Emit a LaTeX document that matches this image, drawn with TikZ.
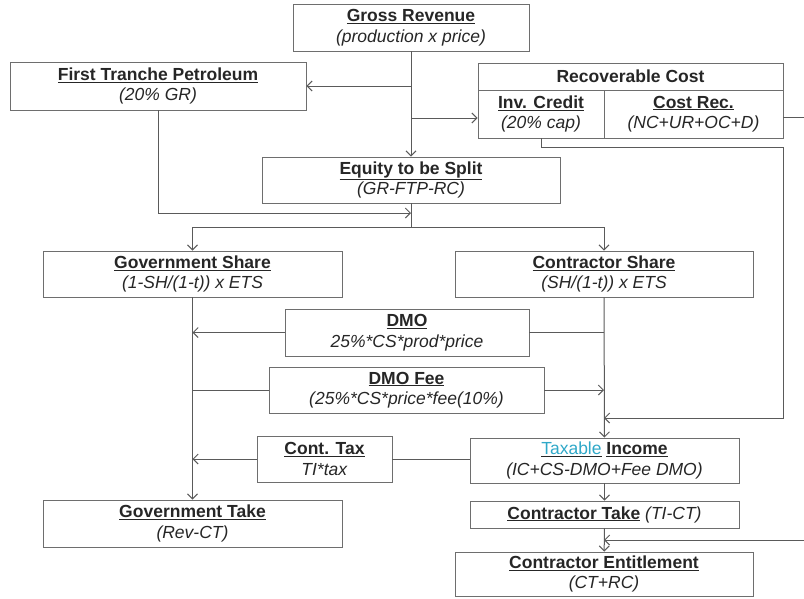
\documentclass[tikz,border=0pt]{standalone}
\usepackage{fontspec}
\setmainfont{Liberation Sans}
\usepackage{tikz}
\usetikzlibrary{arrows.meta}
\definecolor{linegray}{HTML}{5A5A5A}
\definecolor{boxgray}{HTML}{6E6E6E}
\definecolor{linkcyan}{HTML}{2FA8C8}
\newcommand{\hd}[1]{\underline{\textbf{#1}}}

\begin{document}
\begin{tikzpicture}[x=1pt, y=-1pt, >={Straight Barb[length=5pt,width=10pt]},
		box/.style={draw=boxgray, line width=0.9pt, inner sep=0pt, align=center, text=black!85, font=\fontsize{17.5}{20.5}\selectfont},
		link/.style={draw=linegray, line width=1pt}]
				\useasboundingbox (0,0) rectangle (804,598);
				% top row
				\node[box, minimum width=236, minimum height=47] (gr) at (411,27.5) {\hd{Gross Revenue}\\\textit{(production x price)}};
				\node[box, minimum width=296, minimum height=48] (ftp) at (158,86) {\hd{First Tranche Petroleum}\\\textit{(20\% GR)}};
				\node[box, minimum width=305, minimum height=27] (rch) at (630.5,76.5) {\textbf{Recoverable Cost}};
				\node[box, minimum width=126, minimum height=48] (ic) at (541,114) {\hd{Inv. Credit}\\\textit{(20\% cap)}};
				\node[box, minimum width=179, minimum height=48] (crec) at (693.5,114) {\hd{Cost Rec.}\\\textit{(NC+UR+OC+D)}};
				\node[box, minimum width=298, minimum height=46] (ets) at (411,180) {\hd{Equity to be Split}\\\textit{(GR-FTP-RC)}};
				% shares
				\node[box, minimum width=299, minimum height=46] (gs) at (192.5,274) {\hd{Government Share}\\\textit{(1-SH/(1-t)) x ETS}};
				\node[box, minimum width=298, minimum height=46] (cs) at (604,274) {\hd{Contractor Share}\\\textit{(SH/(1-t)) x ETS}};
				\node[box, minimum width=244, minimum height=47] (dmo) at (407,332.5) {\hd{DMO}\\\textit{25\%*CS*prod*price}};
				\node[box, minimum width=275, minimum height=46] (fee) at (406.5,390) {\hd{DMO Fee}\\\textit{(25\%*CS*price*fee(10\%)}};
				\node[box, minimum width=135, minimum height=46] (tax) at (324.5,459) {\hd{Cont. Tax}\\\textit{TI*tax}};
				% takes
				\node[box, minimum width=299, minimum height=47] (gt) at (192.5,523.5) {\hd{Government Take}\\\textit{(Rev-CT)}};
				\node[box, minimum width=269, minimum height=45] (ti) at (604.5,460.5) {\underline{\textcolor{linkcyan}{Taxable}} \hd{Income}\\\textit{(IC+CS-DMO+Fee DMO)}};
				\node[box, minimum width=269, minimum height=27] (ct) at (604.5,514.5) {\hd{Contractor Take} \textit{(TI-CT)}};
				\node[box, minimum width=298, minimum height=44] (ce) at (604,574) {\hd{Contractor Entitlement}\\\textit{(CT+RC)}};
				\coordinate (join) at (411,213);
				\coordinate (fork) at (411,227);
				\coordinate (icdrop) at (783,418);
				\coordinate (rcout) at (804,117);
				\coordinate (rcin) at (804,540);
				% connectors
				\draw[link, ->] (gr) -- (ets);
				\draw[link, ->] (gr.south |- ftp.east) -- (ftp.east);
				\draw[link, ->] (gr.south |- 0,118) -- (ic.west |- 0,118);
				\draw[link] (crec.east |- rcout) -- (rcout);
				\draw[link, ->] (ic.south) -- ++(0,9) -| (icdrop) -- (icdrop -| cs.south);
				\draw[link, ->] (ftp.south) |- (join);
				\draw[link] (ets.south) -- (fork);
				\draw[link, ->] (fork) -| (gs.north);
				\draw[link, ->] (fork) -| (cs.north);
				\draw[link, ->] (dmo.west) -- (dmo.west -| gs.south);
				\draw[link] (dmo.east) -- (dmo.east -| cs.south);
				\draw[link] (fee.west -| gs.south) -- (fee.west);
				\draw[link, ->] (fee.east) -- (fee.east -| cs.south);
				\draw[link, ->] (tax.west) -- (tax.west -| gs.south);
				\draw[link] (tax.east) -- (tax.east -| ti.west);
				\draw[link, ->] (gs) -- (gt);
				\draw[link, ->] (cs) -- (ti);
				\draw[link, ->] (ti) -- (ct);
				\draw[link, ->] (ct) -- (ce);
				\draw[link, ->] (rcin) -- (rcin -| ce.north);
\end{tikzpicture}
\end{document}
